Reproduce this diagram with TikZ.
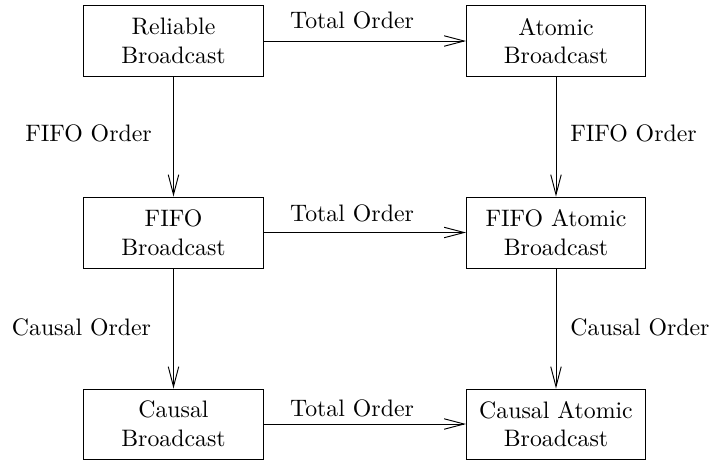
\documentclass[tikz,border=0pt]{standalone}
\usetikzlibrary{arrows.meta}
\begin{document}
\begin{tikzpicture}[x=0.42pt,y=-0.42pt,
  box/.style={draw,line width=0.4pt,minimum width=75.2pt,minimum height=30pt,inner sep=0pt,align=center},
  arr/.style={line width=0.4pt,-{Straight Barb[length=8.4pt,width=4.4pt]}},
  lbl/.style={anchor=base,inner sep=0pt}]
\useasboundingbox (0,0) rectangle (715,461);
\node[box] (rb) at (173.5,41) {Reliable\\Broadcast};
\node[box] (ab) at (556,41) {Atomic\\Broadcast};
\node[box,minimum height=29.8pt] (fb) at (173.5,232.5) {FIFO\\Broadcast};
\node[box,minimum height=29.8pt] (fab) at (556,232.5) {FIFO Atomic\\Broadcast};
\node[box,minimum height=29.4pt] (cb) at (173.5,424) {Causal\\Broadcast};
\node[box,minimum height=29.4pt] (cab) at (556,424) {Causal Atomic\\Broadcast};
\draw[arr] (rb) -- (ab);
\draw[arr] (fb) -- (fab);
\draw[arr] (cb) -- (cab);
\draw[arr] (rb) -- (fb);
\draw[arr] (fb) -- (cb);
\draw[arr] (ab) -- (fab);
\draw[arr] (fab) -- (cab);
\node[lbl] (t1) at (352,28) {Total Order};
\node[lbl] (t2) at (352,221) {Total Order};
\node[lbl] (t3) at (352,416) {Total Order};
\node[lbl] (f1) at (88.5,141) {FIFO Order};
\node[lbl] (f2) at (633.5,141) {FIFO Order};
\node[lbl] (c1) at (81.5,335) {Causal Order};
\node[lbl] (c2) at (640,335) {Causal Order};
\end{tikzpicture}
\end{document}
